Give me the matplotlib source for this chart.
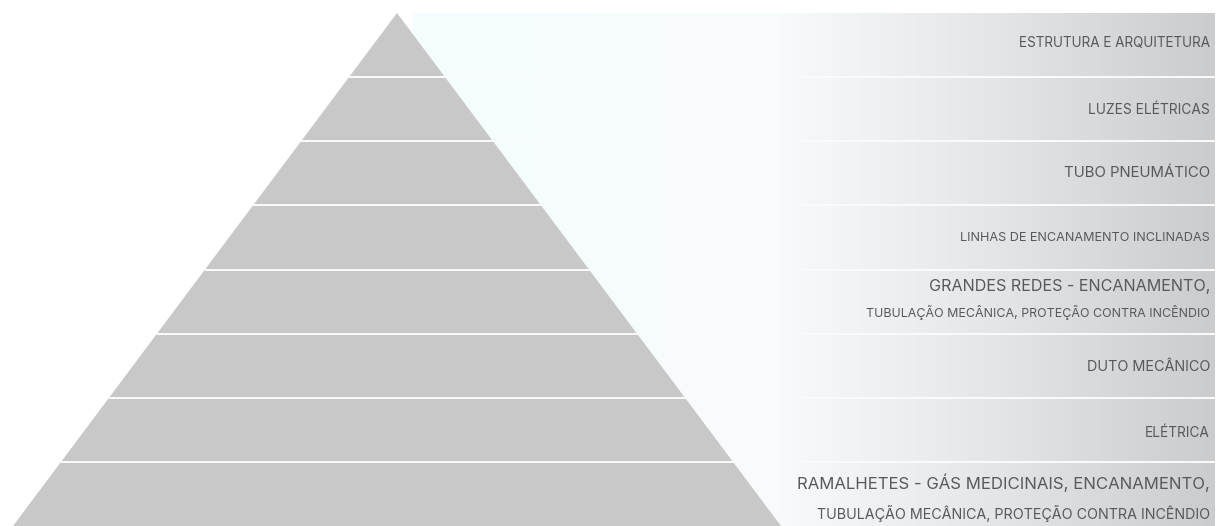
import matplotlib
matplotlib.use("Agg")
import matplotlib.pyplot as plt
import numpy as np
from matplotlib.colors import LinearSegmentedColormap
from matplotlib.patches import Polygon

# ---- data ----
label_lines = [
    ["ESTRUTURA E ARQUITETURA"],
    ["LUZES ELÉTRICAS"],
    ["TUBO PNEUMÁTICO"],
    ["LINHAS DE ENCANAMENTO INCLINADAS"],
    ["GRANDES REDES - ENCANAMENTO,", "TUBULAÇÃO MECÂNICA, PROTEÇÃO CONTRA INCÊNDIO"],
    ["DUTO MECÂNICO"],
    ["ELÉTRICA"],
    ["RAMALHETES - GÁS MEDICINAIS, ENCANAMENTO,", "TUBULAÇÃO MECÂNICA, PROTEÇÃO CONTRA INCÊNDIO"],
]

# ---- style / layout (pixels) ----
line_widths_px = [[193], [122], [147], [251], [283, 344], [124], [65], [415, 395]]
line_y_px = [[43], [110], [173], [238], [286, 313], [367], [433], [483, 514]]

W, H = 1220, 526
apex_x, top_y = 397, 13
base_l, base_r, base_y = 13, 781, 526
panel_l, panel_r = 413, 1215
text_x = 1210

fig = plt.figure(figsize=(W / 100, H / 100), dpi=100)
ax = fig.add_axes([0, 0, 1, 1])
ax.set_xlim(0, W)
ax.set_ylim(H, 0)
ax.axis("off")

# gradient panel
cmap = LinearSegmentedColormap.from_list(
    "g", [(0.0, "#f5fdfe"), (0.46, "#f8fbfc"), (0.57, "#eff2f3"),
          (0.73, "#e4e5e6"), (1.0, "#cbcccd")])
grad = np.linspace(0, 1, 400)[None, :]
ax.imshow(grad, extent=[panel_l, panel_r, base_y, top_y], aspect="auto",
          cmap=cmap, zorder=0, interpolation="bicubic")

# pyramid
tri = Polygon([(apex_x, top_y), (base_r, base_y), (base_l, base_y)],
              closed=True, facecolor="#c8c8c8", edgecolor="none", zorder=1)
ax.add_patch(tri)

n = len(label_lines)
band_h = (base_y - top_y) / n
for i in range(1, n):
    y = top_y + i * band_h
    xl = apex_x - (y - top_y) / (base_y - top_y) * (apex_x - base_l)
    ax.plot([xl, panel_r], [y, y], color="#fbfbfb", lw=1.4, zorder=2,
            solid_capstyle="butt")

# labels
texts = []
for lines, ws, ys in zip(label_lines, line_widths_px, line_y_px):
    for s, w, y in zip(lines, ws, ys):
        t = ax.text(text_x, y, s, ha="right", va="center", fontsize=10,
                    color="#56585a", family="Inter", zorder=3)
        texts.append((t, w))

fig.canvas.draw()
r = fig.canvas.get_renderer()
for t, w in texts:
    bw = t.get_window_extent(renderer=r).width
    t.set_fontsize(10 * w / bw)

fig.savefig("out.png", dpi=100)
